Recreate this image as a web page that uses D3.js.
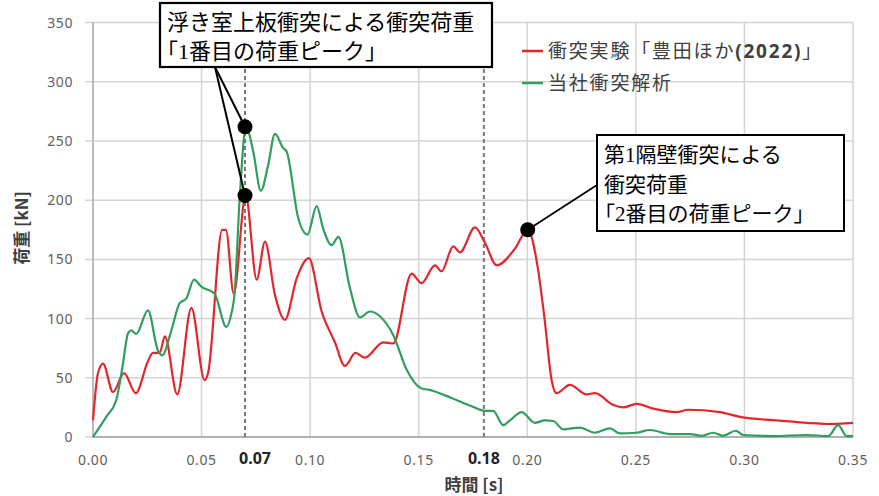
<!DOCTYPE html>
<html>
<head>
<meta charset="utf-8">
<script src="https://cdn.jsdelivr.net/npm/d3@7"></script>
<style>
  html, body { margin: 0; padding: 0; background: #fff; }
  svg { display: block; }
  text { font-family: "Noto Sans", "Noto Sans CJK JP", sans-serif; }
  .jp { font-family: "Noto Sans CJK JP", "Noto Sans", sans-serif; }
</style>
</head>
<body>
<svg id="chart" width="879" height="496"></svg>
<script>
// Collision test (red) — time [s] and load [kN]
const testTime = [0, 0.0023, 0.0046, 0.0092, 0.0143, 0.0197, 0.0253, 0.0276, 0.0307, 0.0331, 0.0388, 0.0453,
  0.0514, 0.0530, 0.0595, 0.0612, 0.0648, 0.0703, 0.0754, 0.0792, 0.0838, 0.0884, 0.0938, 0.0994, 0.1053,
  0.1114, 0.1160, 0.1209, 0.1252, 0.1337, 0.1383, 0.1467, 0.1513, 0.1575, 0.1605, 0.1659, 0.1690, 0.1759,
  0.1805, 0.1859, 0.1943, 0.2002, 0.2050, 0.2080, 0.2112, 0.2135, 0.2196, 0.2273, 0.2311, 0.2396, 0.2442,
  0.2503, 0.2580, 0.2687, 0.2740, 0.2887, 0.2979, 0.3148, 0.3286, 0.3378, 0.3500];
const testLoad = [14, 54, 62, 38, 54, 37, 64, 71, 71, 85, 36, 109,
  48, 54, 175, 175, 121, 204, 133, 165, 120, 99, 134, 151, 106,
  80, 60, 71, 67, 80, 79, 138, 130, 145, 140, 161, 156, 177,
  164, 145, 159, 175, 141, 99, 48, 37, 44, 36, 37, 27, 25,
  28, 24, 21, 23, 21, 17, 14, 12, 11, 12];

// In-house collision analysis (green)
const simTime = [0, 0.0061, 0.0107, 0.0138, 0.0161, 0.0176, 0.0199, 0.0253, 0.0299, 0.0318, 0.0361, 0.0399,
  0.0430, 0.0465, 0.0499, 0.0560, 0.0614, 0.0637, 0.0652, 0.0675, 0.0705, 0.0738, 0.0773, 0.0807, 0.0838,
  0.0876, 0.0892, 0.0945, 0.0988, 0.1030, 0.1060, 0.1099, 0.1130, 0.1183, 0.1229, 0.1275, 0.1321, 0.1383,
  0.1444, 0.1513, 0.1544, 0.1651, 0.1744, 0.1805, 0.1843, 0.1889, 0.1920, 0.1974, 0.2035, 0.2081, 0.2120,
  0.2165, 0.2242, 0.2311, 0.2380, 0.2426, 0.2503, 0.2564, 0.2657, 0.2749, 0.2803, 0.2856, 0.2902, 0.2960,
  0.2994, 0.3132, 0.3286, 0.3386, 0.3432, 0.3470, 0.3500];
const simLoad = [0, 17, 31, 62, 87.5, 90, 87, 107, 73, 69, 90, 113,
  117, 133, 127, 121, 93, 104, 121, 200, 262, 241, 208, 230, 256,
  244, 241, 185, 171, 195, 176, 162, 169, 126, 101, 106, 102, 86,
  57, 41, 40, 33, 26, 22, 22, 10, 14, 21, 12, 14, 13.5,
  6.5, 8, 3.6, 7.3, 3.1, 3.6, 5.9, 2.5, 2.5, 1, 3.6, 1, 5.3,
  1.7, 0.8, 1.7, 0.8, 10, 0.8, 0.8];

const xTicks = [0, 0.05, 0.10, 0.15, 0.20, 0.25, 0.30, 0.35];
const yTicks = [0, 50, 100, 150, 200, 250, 300, 350];
const markTimes = [0.07, 0.18];           // dashed reference times
const seriesNames = ["衝突実験「豊田ほか", "(2022)", "」", "当社衝突解析"];
const firstPeaks = [{t: 0.07, v: 262}, {t: 0.07, v: 204}];
const secondPeak = {t: 0.2002, v: 175};
const note1 = ["浮き室上板衝突による衝突荷重", ["「", "1", "番目の荷重ピーク」"]];
const note2 = [["第", "1", "隔壁衝突による"], ["衝突荷重"], ["「", "2", "番目の荷重ピーク」"]];

const RED = "#e3262e", GREEN = "#2f9e5e";
const svg = d3.select("#chart");
const x = d3.scaleLinear().domain([0, 0.35]).range([93, 853]);
const y = d3.scaleLinear().domain([0, 350]).range([437, 22.6]);

// grid
svg.append("g").selectAll("line").data(yTicks).join("line")
  .attr("x1", 85).attr("x2", x(0.35))
  .attr("y1", d => y(d)).attr("y2", d => y(d))
  .attr("stroke", "#d4d4d4").attr("stroke-width", 1.5);
svg.append("g").selectAll("line").data(xTicks).join("line")
  .attr("x1", d => x(d)).attr("x2", d => x(d))
  .attr("y1", y(350)).attr("y2", y(0))
  .attr("stroke", "#d4d4d4").attr("stroke-width", 1.5);
svg.append("line").attr("x1", x(0)).attr("x2", x(0)).attr("y1", y(350)).attr("y2", y(0))
  .attr("stroke", "#b0b0b0").attr("stroke-width", 1.5);
svg.append("line").attr("x1", x(0)).attr("x2", x(0.35)).attr("y1", y(0)).attr("y2", y(0))
  .attr("stroke", "#a0a0a0").attr("stroke-width", 1.5);

// tick labels
svg.append("g").selectAll("text").data(xTicks).join("text")
  .attr("x", d => x(d)).attr("y", 465).attr("text-anchor", "middle")
  .attr("font-size", 14).attr("letter-spacing", 0.6).attr("fill", "#606060")
  .text(d => d3.format(".2f")(d));
svg.append("g").selectAll("text").data(yTicks).join("text")
  .attr("x", 73).attr("y", d => y(d) + 5).attr("text-anchor", "end")
  .attr("font-size", 14).attr("letter-spacing", 0.6).attr("fill", "#606060")
  .text(d => d);

// dashed reference lines
svg.append("g").selectAll("line").data(markTimes).join("line")
  .attr("x1", d => x(d)).attr("x2", d => x(d))
  .attr("y1", y(0)).attr("y2", y(312))
  .attr("stroke", "#777").attr("stroke-width", 2).attr("stroke-dasharray", "4,3");
svg.append("g").selectAll("text").data(markTimes).join("text")
  .attr("x", (d, i) => x(d) + (i === 0 ? 10 : 0)).attr("y", 464).attr("text-anchor", "middle")
  .attr("font-size", 16).attr("font-weight", "bold").attr("fill", "#222")
  .text(d => d3.format(".2f")(d));

// axis titles
svg.append("text").attr("class", "jp").attr("x", 474).attr("y", 491).attr("text-anchor", "middle")
  .attr("font-size", 17).attr("font-weight", "bold").attr("fill", "#404040").text("時間 [s]");
svg.append("text").attr("class", "jp").attr("transform", "translate(28,228) rotate(-90)")
  .attr("text-anchor", "middle").attr("font-size", 17).attr("font-weight", "bold")
  .attr("fill", "#404040").text("荷重 [kN]");

// series
const line = d3.line().x(d => x(d[0])).y(d => y(d[1])).curve(d3.curveMonotoneX);
svg.append("path").datum(d3.zip(testTime, testLoad)).attr("d", line)
  .attr("fill", "none").attr("stroke", RED).attr("stroke-width", 2.2);
svg.append("path").datum(d3.zip(simTime, simLoad)).attr("d", line)
  .attr("fill", "none").attr("stroke", GREEN).attr("stroke-width", 2.2);

// legend
const lg = svg.append("g");
lg.append("line").attr("x1", 522).attr("x2", 543).attr("y1", 51).attr("y2", 51)
  .attr("stroke", RED).attr("stroke-width", 2.5);
lg.append("line").attr("x1", 522).attr("x2", 543).attr("y1", 83).attr("y2", 83)
  .attr("stroke", GREEN).attr("stroke-width", 2.5);
const l1 = lg.append("text").attr("class", "jp").attr("x", 548).attr("y", 58)
  .attr("font-size", 19).attr("letter-spacing", 1.8).attr("fill", "#404040");
l1.append("tspan").text(seriesNames[0]);
l1.append("tspan").attr("font-weight", "bold").attr("font-family", "Noto Sans").text(seriesNames[1]);
l1.append("tspan").text(seriesNames[2]);
lg.append("text").attr("class", "jp").attr("x", 548).attr("y", 90)
  .attr("font-size", 19).attr("letter-spacing", 1.8).attr("fill", "#404040").text(seriesNames[3]);

// annotation 1
const a1 = svg.append("g");
a1.selectAll("line").data(firstPeaks).join("line")
  .attr("x1", 215).attr("y1", 67).attr("x2", d => x(d.t)).attr("y2", d => y(d.v))
  .attr("stroke", "#000").attr("stroke-width", 2);
a1.append("rect").attr("x", 160).attr("y", 3).attr("width", 332).attr("height", 64)
  .attr("fill", "#fff").attr("stroke", "#000").attr("stroke-width", 2.2);
a1.append("text").attr("class", "jp").attr("x", 167).attr("y", 30)
  .attr("font-size", 22).attr("fill", "#000").text(note1[0]);
const n1b = a1.append("text").attr("class", "jp").attr("x", 156).attr("y", 59)
  .attr("font-size", 22).attr("fill", "#000");
note1[1].forEach((s, i) => n1b.append("tspan")
  .attr("font-family", i === 1 ? "Liberation Serif" : null).text(s));
a1.selectAll("circle").data(firstPeaks).join("circle")
  .attr("cx", d => x(d.t)).attr("cy", d => y(d.v)).attr("r", 7.5).attr("fill", "#000");

// annotation 2
const a2 = svg.append("g");
a2.append("line").attr("x1", 597).attr("y1", 185).attr("x2", x(secondPeak.t)).attr("y2", y(secondPeak.v))
  .attr("stroke", "#000").attr("stroke-width", 1.8);
a2.append("rect").attr("x", 597).attr("y", 135).attr("width", 247).attr("height", 96)
  .attr("fill", "#fff").attr("stroke", "#000").attr("stroke-width", 2);
note2.forEach((parts, r) => {
  const t = a2.append("text").attr("class", "jp")
    .attr("x", parts[0] === "「" ? 594 : 604).attr("y", 162 + r * 29.5)
    .attr("font-size", 21).attr("fill", "#000");
  parts.forEach((s, i) => t.append("tspan")
    .attr("font-family", (parts.length === 3 && i === 1) ? "Liberation Serif" : null).text(s));
});
a2.append("circle").attr("cx", x(secondPeak.t)).attr("cy", y(secondPeak.v)).attr("r", 7.5).attr("fill", "#000");
</script>
</body>
</html>
